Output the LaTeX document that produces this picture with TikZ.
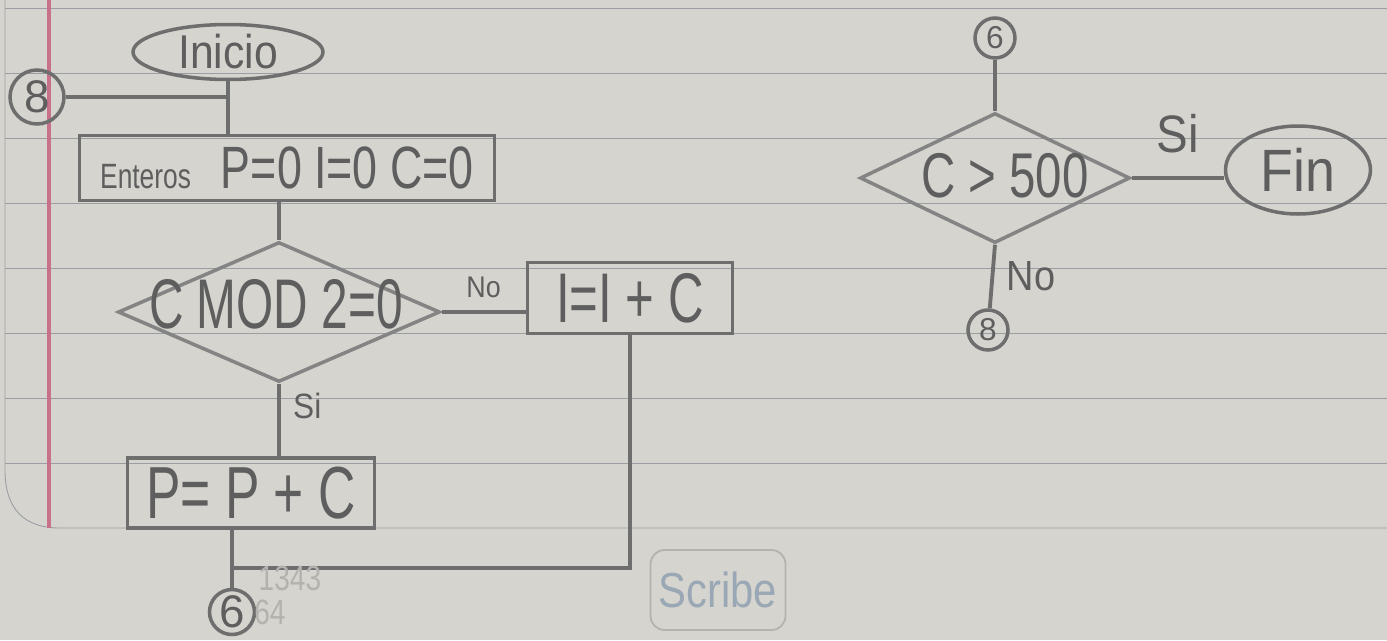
\documentclass[tikz,border=0pt]{standalone}
\usepackage{fontspec}
\setmainfont{Liberation Sans}
\usepackage{graphicx}
\usetikzlibrary{shapes.geometric}
\definecolor{paper}{HTML}{D5D4CF}
\definecolor{rule}{HTML}{9A9EA3}
\definecolor{margin}{HTML}{C9708A}
\definecolor{pencil}{HTML}{6E6E6E}
\definecolor{ink}{HTML}{5E5E5E}
\definecolor{faint}{HTML}{B3B2AE}
\definecolor{badge}{HTML}{9AA7B5}
\newcommand{\hw}[2][0.75]{\scalebox{#1}[1]{#2}}

\begin{document}
\begin{tikzpicture}[x=0.02cm, y=-0.02cm,
  box/.style={rectangle, draw=pencil, line width=2.2pt, inner sep=0pt, text=ink},
  cond/.style={diamond, draw=pencil!85, line width=2pt, inner sep=0pt},
  term/.style={ellipse, draw=pencil, line width=2pt, inner sep=0pt, text=ink},
  conn/.style={circle, draw=pencil, line width=2pt, inner sep=0pt, text=ink},
  lbl/.style={text=ink, inner sep=1pt},
  link/.style={draw=pencil, line width=2.2pt}
]
\useasboundingbox (0,0) rectangle (1387,640);
% hoja de cuaderno
\fill[paper] (0,0) rectangle (1387,640);
\foreach \y in {8,73,...,463}
  \draw[rule, line width=0.5pt] (5,\y) -- (1387,\y);
\draw[rule, line width=0.5pt] (5,0) -- (5,470) .. controls (5,510) and (25,528) .. (60,528) -- (1387,528);
\draw[margin, line width=2pt] (49,0) -- (49,528);

% lado izquierdo
\node[conn, minimum size=1.08cm, font=\fontsize{26}{26}\selectfont] (c8) at (37,97) {8};
\node[term, minimum width=3.8cm, minimum height=1.1cm, font=\fontsize{27}{27}\selectfont] (ini) at (228,52) {\hw[0.9]{Inicio}};
\node[box, minimum width=8.3cm, minimum height=1.3cm] (datos) at (287,168)
  {\hw{\fontsize{20}{20}\selectfont Enteros}\hspace{0.6cm}\hw{\fontsize{34}{34}\selectfont P=0 I=0 C=0}};
\node[cond, minimum width=6.44cm, minimum height=2.8cm] (cmod) at (279,312) {};
\node[lbl, font=\fontsize{40}{40}\selectfont] (cmodt) at (276,304) {\hw[0.68]{C MOD 2=0}};
\node[box, minimum width=4.1cm, minimum height=1.42cm, font=\fontsize{40}{40}\selectfont] (inc) at (630,298) {\hw[0.7]{I=I + C}};
\node[box, minimum width=4.94cm, minimum height=1.4cm, font=\fontsize{42}{42}\selectfont] (suma) at (251,493) {\hw[0.7]{P= P + C}};
\node[conn, minimum size=0.9cm, font=\fontsize{26}{26}\selectfont] (c6) at (232,612) {6};
\coordinate (junta) at (232,568);

\draw[link] (ini) -- (ini |- datos.north);
\draw[link] (c8) -- (c8 -| ini);
\draw[link] (datos.south -| cmod.north) -- (cmod.north);
\draw[link] (cmod.east) -- node[lbl, above=6pt, font=\fontsize{17}{17}\selectfont] {\hw[0.9]{No}} (cmod.east -| inc.west);
\draw[link] (cmod.south) -- node[lbl, right=6pt, pos=0.3, font=\fontsize{20}{20}\selectfont] {\hw[0.9]{Si}} (cmod.south |- suma.north);
\draw[link] (suma.south -| c6) -- (c6);
\draw[link] (inc.south) |- (junta);

% lado derecho
\node[conn, minimum size=0.8cm, font=\fontsize{18}{18}\selectfont] (c6b) at (995,38) {6};
\node[cond, minimum width=5.4cm, minimum height=2.6cm] (dmax) at (995,178) {};
\node[lbl, font=\fontsize{36}{36}\selectfont] (dmaxt) at (1005,176) {\hw{C > 500}};
\node[term, minimum width=2.9cm, minimum height=1.76cm, font=\fontsize{34}{34}\selectfont] (fin) at (1298,170) {\hw[0.9]{Fin}};
\node[conn, minimum size=0.8cm, font=\fontsize{18}{18}\selectfont] (c8b) at (988,330) {8};

\draw[link] (c6b) -- (dmax.north);
\draw[link] (dmax.east) -- node[lbl, above=12pt, font=\fontsize{30}{30}\selectfont] {\hw[0.9]{Si}} (dmax.east -| fin.west);
\draw[link] (dmax.south) -- node[lbl, right=6pt, font=\fontsize{24}{24}\selectfont] {\hw[0.9]{No}} (c8b);

% marcas tenues
\node[text=faint, font=\fontsize{20}{20}\selectfont] (nota1) at (290,578) {\hw[0.8]{1343}};
\node[text=faint, font=\fontsize{20}{20}\selectfont] (nota2) at (270,612) {\hw[0.8]{64}};
\node[draw=faint, line width=1pt, rounded corners=8pt, minimum width=2.7cm, minimum height=1.6cm,
      text=badge, font=\fontsize{28}{28}\selectfont] (scribe) at (718,590) {\hw[0.85]{Scribe}};
\end{tikzpicture}
\end{document}
